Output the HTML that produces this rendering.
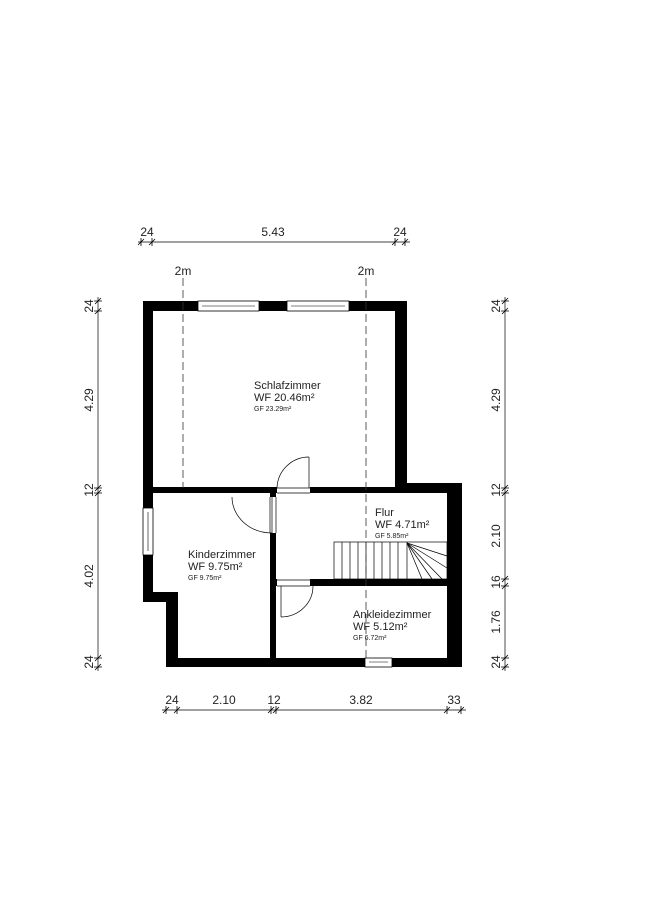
<!DOCTYPE html>
<html><head><meta charset="utf-8"><style>
html,body{margin:0;padding:0;background:#fff;}
svg{display:block;}
text{font-family:"Liberation Sans",sans-serif;fill:#222;}
</style></head><body>
<svg width="651" height="900" viewBox="0 0 651 900" xmlns="http://www.w3.org/2000/svg">
<g fill="#000">
<!-- top wall -->
<rect x="143" y="301" width="264" height="10"/>
<!-- left upper wall -->
<rect x="143" y="301" width="10" height="301"/>
<!-- left step -->
<rect x="143" y="592" width="35" height="10"/>
<rect x="166" y="592" width="12" height="75"/>
<!-- right upper wall -->
<rect x="395" y="301" width="12" height="187"/>
<!-- middle wall -->
<rect x="143" y="487" width="319" height="6"/>
<rect x="395" y="483" width="67" height="10"/>
<!-- right lower wall -->
<rect x="447" y="483" width="15" height="184"/>
<!-- bottom wall -->
<rect x="166" y="658" width="296" height="9"/>
<!-- interior vertical -->
<rect x="270" y="493" width="6" height="165"/>
<!-- stair/ankleide wall -->
<rect x="276" y="579" width="171" height="7"/>
</g>
<!-- window openings (white) -->
<g fill="#fff" stroke="#000" stroke-width="0.8">
<rect x="198" y="301" width="61" height="10"/>
<rect x="287" y="301" width="62" height="10"/>
<rect x="143" y="508" width="10" height="47"/>
<rect x="365" y="658" width="27" height="9"/>
</g>
<g stroke="#000" stroke-width="0.6">
<line x1="202" y1="306" x2="255" y2="306"/>
<line x1="291" y1="306" x2="345" y2="306"/>
<line x1="148" y1="512" x2="148" y2="551"/>
<line x1="369" y1="662" x2="388" y2="662"/>
</g>
<!-- door openings -->
<g fill="#fff">
<rect x="277" y="486" width="33" height="8"/>
<rect x="269" y="497" width="8" height="36"/>
<rect x="277" y="578" width="33" height="9"/>
</g>
<g stroke="#000" stroke-width="0.7" fill="none">
<line x1="277" y1="488" x2="310" y2="488"/><line x1="277" y1="493" x2="310" y2="493"/>
<line x1="270" y1="497" x2="270" y2="533"/><line x1="276" y1="497" x2="276" y2="533"/>
<line x1="277" y1="580" x2="310" y2="580"/><line x1="277" y1="586" x2="310" y2="586"/>
<!-- doors -->
<line x1="309" y1="457" x2="309" y2="488"/>
<path d="M309 457 A32 32 0 0 0 277 488"/>
<line x1="272" y1="497" x2="272" y2="533"/>
<path d="M232 497 A40 36 0 0 0 272 533"/>
<line x1="281" y1="586" x2="281" y2="617"/>
<path d="M281 617 A32 31 0 0 0 313 586"/>
<!-- stair -->
<rect x="334" y="542" width="113" height="37"/>
<line x1="342" y1="542" x2="342" y2="579"/><line x1="350" y1="542" x2="350" y2="579"/>
<line x1="358" y1="542" x2="358" y2="579"/><line x1="366" y1="542" x2="366" y2="579"/>
<line x1="374" y1="542" x2="374" y2="579"/><line x1="382" y1="542" x2="382" y2="579"/>
<line x1="390" y1="542" x2="390" y2="579"/><line x1="398" y1="542" x2="398" y2="579"/>
<line x1="407" y1="542" x2="407" y2="579"/>
<line x1="407" y1="543" x2="447" y2="556"/>
<line x1="407" y1="543" x2="447" y2="568"/>
<line x1="407" y1="543" x2="442" y2="579"/>
<line x1="407" y1="543" x2="432" y2="579"/>
<line x1="407" y1="543" x2="422" y2="579"/>
</g>
<!-- dashed lines -->
<g stroke="#333" stroke-width="0.8" stroke-dasharray="8,4">
<line x1="183" y1="278" x2="183" y2="488"/>
<line x1="366" y1="278" x2="366" y2="658"/>
</g>
<text x="183" y="275" font-size="12" text-anchor="middle">2m</text>
<text x="366" y="275" font-size="12" text-anchor="middle">2m</text>
<!-- room labels -->
<text x="254" y="389" font-size="11">Schlafzimmer</text>
<text x="254" y="401" font-size="11">WF 20.46m²</text>
<text x="254" y="411" font-size="7">GF 23.29m²</text>
<text x="188" y="558" font-size="11">Kinderzimmer</text>
<text x="188" y="570" font-size="11">WF 9.75m²</text>
<text x="188" y="580" font-size="7">GF 9.75m²</text>
<text x="375" y="516" font-size="11">Flur</text>
<text x="375" y="528" font-size="11">WF 4.71m²</text>
<text x="375" y="538" font-size="7">GF 5.85m²</text>
<text x="353" y="618" font-size="11">Ankleidezimmer</text>
<text x="353" y="630" font-size="11">WF 5.12m²</text>
<text x="353" y="640" font-size="7">GF 6.72m²</text>
<!-- dimension lines -->
<g stroke="#000" stroke-width="0.7">
<line x1="138" y1="242" x2="410" y2="242"/>
<line x1="162" y1="710" x2="466" y2="710"/>
<line x1="98" y1="297" x2="98" y2="671"/>
<line x1="505" y1="297" x2="505" y2="671"/>
</g>
<g stroke="#000" stroke-width="0.8">
<!-- top ticks -->
<path d="M138 245 l6 -6 M141 238 v8 M149 245 l6 -6 M152 238 v8 M392 245 l6 -6 M395 238 v8 M402 245 l6 -6 M405 238 v8"/>
<!-- bottom ticks -->
<path d="M163 713 l6 -6 M166 706 v8 M174 713 l6 -6 M177 706 v8 M268 713 l6 -6 M271 706 v8 M273 713 l6 -6 M276 706 v8 M444 713 l6 -6 M447 706 v8 M458 713 l6 -6 M461 706 v8"/>
<!-- left ticks -->
<path d="M95 304 l6 -6 M94 301 h8 M95 314 l6 -6 M94 311 h8 M95 491 l6 -6 M94 488 h8 M95 496 l6 -6 M94 493 h8 M95 661 l6 -6 M94 658 h8 M95 670 l6 -6 M94 667 h8"/>
<!-- right ticks -->
<path d="M502 304 l6 -6 M501 301 h8 M502 314 l6 -6 M501 311 h8 M502 491 l6 -6 M501 488 h8 M502 496 l6 -6 M501 493 h8 M502 582 l6 -6 M501 579 h8 M502 589 l6 -6 M501 586 h8 M502 661 l6 -6 M501 658 h8 M502 670 l6 -6 M501 667 h8"/>
</g>
<g font-size="12">
<text x="147" y="236" text-anchor="middle">24</text>
<text x="273" y="236" text-anchor="middle">5.43</text>
<text x="400" y="236" text-anchor="middle">24</text>
<text x="172" y="704" text-anchor="middle">24</text>
<text x="224" y="704" text-anchor="middle">2.10</text>
<text x="274" y="704" text-anchor="middle">12</text>
<text x="361" y="704" text-anchor="middle">3.82</text>
<text x="454" y="704" text-anchor="middle">33</text>
<g text-anchor="middle">
<text transform="translate(93,306) rotate(-90)">24</text>
<text transform="translate(93,400) rotate(-90)">4.29</text>
<text transform="translate(93,490) rotate(-90)">12</text>
<text transform="translate(93,576) rotate(-90)">4.02</text>
<text transform="translate(93,662) rotate(-90)">24</text>
<text transform="translate(500,306) rotate(-90)">24</text>
<text transform="translate(500,400) rotate(-90)">4.29</text>
<text transform="translate(500,490) rotate(-90)">12</text>
<text transform="translate(500,536) rotate(-90)">2.10</text>
<text transform="translate(500,582) rotate(-90)">16</text>
<text transform="translate(500,622) rotate(-90)">1.76</text>
<text transform="translate(500,662) rotate(-90)">24</text>
</g>
</g>
</svg>
</body></html>
